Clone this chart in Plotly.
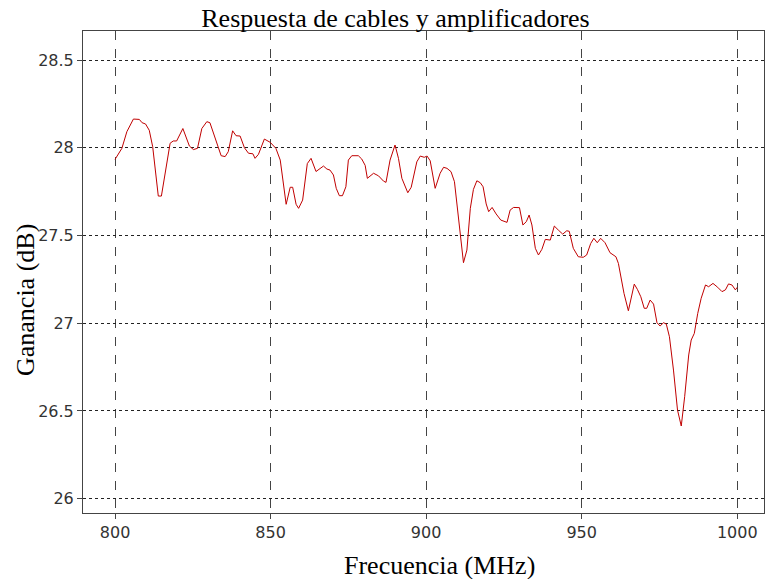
import plotly.graph_objects as go

# Frequency sweep (MHz) and measured gain (dB)
freq_mhz = [
    800.0, 802.2, 803.8, 805.9, 807.8, 808.7, 809.8, 811.0, 812.1, 813.9,
    814.9, 816.0, 817.7, 818.7, 819.8, 821.8, 823.9, 825.2, 826.5, 827.9,
    829.5, 830.5, 832.4, 834.1, 835.4, 836.4, 837.8, 838.9, 840.2, 841.6,
    842.9, 844.3, 845.0, 846.1, 848.0, 849.9, 851.7, 853.1, 855.0, 856.3,
    857.1, 858.2, 859.0, 860.3, 861.8, 863.0, 864.6, 867.0, 868.1, 869.1,
    870.2, 871.1, 872.1, 873.1, 874.2, 875.0, 876.1, 878.2, 879.3, 880.4,
    881.1, 883.1, 884.7, 886.3, 887.1, 888.4, 890.0, 891.1, 892.2, 894.1,
    895.2, 897.0, 898.1, 899.4, 900.3, 901.3, 902.9, 904.5, 905.6, 906.7,
    908.0, 909.1, 912.0, 913.1, 914.2, 915.2, 916.3, 917.4, 918.3, 919.3,
    920.1, 921.2, 922.5, 924.0, 926.0, 927.0, 928.1, 930.0, 931.1, 932.2,
    933.1, 934.0, 935.1, 936.1, 937.2, 938.3, 939.9, 941.2, 942.5, 943.9,
    945.2, 946.0, 947.3, 948.9, 950.5, 951.6, 952.9, 953.9, 955.0, 956.1,
    957.5, 959.1, 961.0, 961.8, 963.6, 965.0, 966.9, 967.9, 969.0, 970.1,
    970.9, 972.0, 973.1, 974.2, 975.2, 976.3, 977.2, 978.2, 979.5, 980.8,
    982.0, 983.1, 984.4, 985.2, 986.2, 987.3, 988.4, 989.8, 990.8, 992.2,
    993.7, 995.1, 996.2, 997.2, 998.3, 999.4, 1000.0,
]
gain_db = [
    27.934, 27.997, 28.092, 28.164, 28.162, 28.143, 28.136, 28.100, 28.006, 27.725,
    27.725, 27.835, 28.026, 28.039, 28.039, 28.110, 28.010, 27.990, 27.997, 28.110,
    28.149, 28.143, 28.050, 27.955, 27.950, 27.978, 28.097, 28.069, 28.067, 28.000,
    27.969, 27.966, 27.940, 27.963, 28.050, 28.031, 27.997, 27.930, 27.678, 27.775,
    27.775, 27.678, 27.655, 27.702, 27.910, 27.940, 27.865, 27.896, 27.879, 27.873,
    27.845, 27.769, 27.727, 27.727, 27.778, 27.930, 27.955, 27.955, 27.936, 27.900,
    27.826, 27.855, 27.840, 27.810, 27.803, 27.930, 28.016, 27.940, 27.826, 27.744,
    27.775, 27.920, 27.953, 27.946, 27.953, 27.926, 27.769, 27.855, 27.889, 27.883,
    27.864, 27.807, 27.345, 27.417, 27.655, 27.763, 27.812, 27.801, 27.778, 27.680,
    27.636, 27.660, 27.623, 27.588, 27.575, 27.645, 27.660, 27.659, 27.560, 27.579,
    27.617, 27.560, 27.427, 27.389, 27.421, 27.478, 27.474, 27.554, 27.531, 27.508,
    27.527, 27.524, 27.427, 27.379, 27.376, 27.389, 27.455, 27.484, 27.459, 27.484,
    27.459, 27.402, 27.379, 27.341, 27.170, 27.071, 27.223, 27.193, 27.151, 27.085,
    27.085, 27.132, 27.109, 27.003, 26.984, 27.003, 26.995, 26.923, 26.733, 26.505,
    26.414, 26.581, 26.819, 26.904, 26.942, 27.056, 27.142, 27.218, 27.208, 27.227,
    27.205, 27.180, 27.190, 27.224, 27.218, 27.190, 27.205,
]

x_ticks = [800, 850, 900, 950, 1000]
y_ticks = [26.0, 26.5, 27.0, 27.5, 28.0, 28.5]
y_tick_text = ["26", "26.5", "27", "27.5", "28", "28.5"]

W, H = 765, 579
SERIF = "Liberation Serif, Times New Roman, serif"
SANS = "DejaVu Sans, sans-serif"

fig = go.Figure()
fig.add_trace(go.Scatter(
    x=freq_mhz, y=gain_db, mode="lines",
    line=dict(color="#c00000", width=1),
    hoverinfo="skip", showlegend=False,
))

fig.update_layout(
    width=W, height=H,
    margin=dict(l=83, r=1, t=31, b=66),
    paper_bgcolor="white", plot_bgcolor="white",
    title=dict(
        text="Respuesta de cables y amplificadores",
        font=dict(family=SERIF, size=26, color="black"),
        x=395.5 / W, xref="container", xanchor="center",
        y=1 - 18 / H, yref="container", yanchor="middle",
    ),
)

fig.update_xaxes(
    range=[789.7, 1008.6],
    tickvals=x_ticks, ticktext=[str(v) for v in x_ticks],
    tickfont=dict(family=SANS, size=16, color="#333"),
    ticks="outside", ticklen=5, tickcolor="#444",
    showline=True, linecolor="#444", linewidth=1, mirror=True,
    showgrid=True, gridcolor="#444", gridwidth=1, griddash="dash",
    zeroline=False,
)
fig.update_yaxes(
    range=[25.918, 28.666],
    tickvals=y_ticks, ticktext=y_tick_text,
    tickfont=dict(family=SANS, size=16, color="#333"),
    ticks="outside", ticklen=5, tickcolor="#444",
    showline=True, linecolor="#444", linewidth=1, mirror=True,
    showgrid=True, gridcolor="#222", gridwidth=1, griddash="dot",
    zeroline=False,
)

# Axis titles placed as free text
fig.add_annotation(
    text="Frecuencia (MHz)", xref="paper", yref="paper",
    x=(439.5 - 83) / (W - 84), y=-(565 - 513) / (513 - 31),
    xanchor="center", yanchor="middle", showarrow=False,
    font=dict(family=SERIF, size=26, color="black"),
)
fig.add_annotation(
    text="Ganancia (dB)", xref="paper", yref="paper",
    x=-(83 - 25) / (W - 84), y=(513 - 300) / (513 - 31),
    xanchor="center", yanchor="middle", showarrow=False, textangle=-90,
    font=dict(family=SERIF, size=26, color="black"),
)

fig.write_html("out.html")
